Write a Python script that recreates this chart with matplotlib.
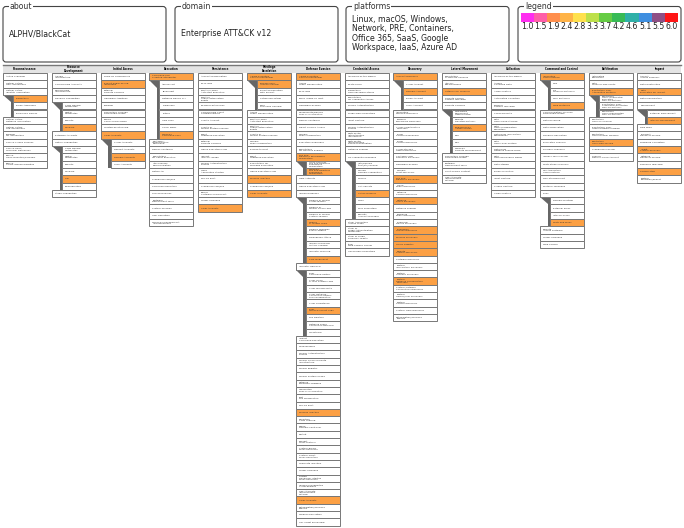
#!/usr/bin/env python3

import textwrap
import matplotlib
matplotlib.use("Agg")
import matplotlib.pyplot as plt
from matplotlib.patches import FancyBboxPatch, Polygon, Rectangle

# "- " means sub-technique, " *" means the technique is scored
reconnaissance = ["Active Scanning", "Gather Victim Host Information", "Gather Victim Identity Information",
    "- Credentials *", "- Email Addresses", "- Employee Names", "Gather Victim Network Information",
    "Gather Victim Org Information", "Phishing for Information", "Search Closed Sources",
    "Search Open Technical Databases", "Search Open Websites/Domains", "Search Victim-Owned Websites"]
resource_dev = ["Acquire Infrastructure", "Compromise Accounts", "Compromise Infrastructure", "Develop Capabilities",
    "- Code Signing Certificates", "- Digital Certificates", "- Exploits", "- Malware *", "Establish Accounts",
    "Obtain Capabilities", "- Code Signing Certificates", "- Digital Certificates", "- Exploits", "- Malware",
    "- Tool *", "- Vulnerabilities", "Stage Capabilities"]
initial_access = ["Drive-by Compromise", "Exploit Public-Facing Application *", "External Remote Services",
    "Hardware Additions", "Phishing", "Replication Through Removable Media", "Supply Chain Compromise",
    "Trusted Relationship", "Valid Accounts *", "- Cloud Accounts", "- Default Accounts", "- Domain Accounts *",
    "- Local Accounts"]
execution = ["Command and Scripting Interpreter *", "- AppleScript", "- JavaScript", "- Network Device CLI",
    "- PowerShell", "- Python", "- Unix Shell", "- Visual Basic", "- Windows Command Shell *",
    "Container Administration Command", "Deploy Container", "Exploitation for Client Execution",
    "Inter-Process Communication", "Native API", "Scheduled Task/Job", "Serverless Execution", "Shared Modules",
    "Software Deployment Tools", "System Services", "User Execution", "Windows Management Instrumentation"]
persistence = ["Account Manipulation", "BITS Jobs", "Boot or Logon Autostart Execution",
    "Boot or Logon Initialization Scripts", "Browser Extensions", "Compromise Client Software Binary",
    "Create Account", "Create or Modify System Process", "Event Triggered Execution", "External Remote Services",
    "Hijack Execution Flow", "Implant Internal Image", "Modify Authentication Process",
    "Office Application Startup", "Pre-OS Boot", "Scheduled Task/Job", "Server Software Component",
    "Traffic Signaling", "Valid Accounts *"]
priv_esc = ["Abuse Elevation Control Mechanism *", "- Bypass User Account Control *",
    "- Elevated Execution with Prompt", "- Setuid and Setgid", "- Sudo and Sudo Caching",
    "Access Token Manipulation", "Boot or Logon Autostart Execution", "Boot or Logon Initialization Scripts",
    "Create or Modify System Process", "Domain Policy Modification", "Escape to Host",
    "Event Triggered Execution", "Exploitation for Privilege Escalation", "Hijack Execution Flow",
    "Process Injection *", "Scheduled Task/Job", "Valid Accounts *"]
defense_evasion = ["Abuse Elevation Control Mechanism *", "Access Token Manipulation", "BITS Jobs",
    "Build Image on Host", "Debugger Evasion", "Deobfuscate/Decode Files or Information", "Deploy Container",
    "Direct Volume Access", "Domain Policy Modification", "Execution Guardrails",
    "Exploitation for Defense Evasion", "File and Directory Permissions Modification *",
    "- Linux and Mac File and Directory Permissions Modification",
    "- Windows File and Directory Permissions Modification *", "Hide Artifacts", "Hijack Execution Flow",
    "Impair Defenses", "- Disable or Modify Cloud Firewall", "- Disable or Modify Cloud Logs",
    "- Disable or Modify System Firewall", "- Disable or Modify Tools *", "- Disable Windows Event Logging",
    "- Downgrade Attack", "- Impair Command History Logging", "- Indicator Blocking", "- Safe Mode Boot *",
    "Indicator Removal", "- Clear Command History", "- Clear Linux or Mac System Logs", "- Clear Mailbox Data",
    "- Clear Network Connection History and Configuration", "- Clear Persistence",
    "- Clear Windows Event Logs *", "- File Deletion", "- Network Share Connection Removal", "- Timestomp",
    "Indirect Command Execution", "Masquerading", "Modify Authentication Process",
    "Modify Cloud Compute Infrastructure", "Modify Registry", "Modify System Image", "Network Boundary Bridging",
    "Obfuscated Files or Information", "Plist File Modification", "Pre-OS Boot", "Process Injection *",
    "Reflective Code Loading", "Rogue Domain Controller", "Rootkit", "Subvert Trust Controls",
    "System Binary Proxy Execution", "System Script Proxy Execution", "Template Injection", "Traffic Signaling",
    "Trusted Developer Utilities Proxy Execution", "Unused/Unsupported Cloud Regions",
    "Use Alternate Authentication Material", "Valid Accounts *", "Virtualization/Sandbox Evasion",
    "Weaken Encryption", "XSL Script Processing"]
credential_access = ["Adversary-in-the-Middle", "Brute Force", "Credentials from Password Stores",
    "Exploitation for Credential Access", "Forced Authentication", "Forge Web Credentials", "Input Capture",
    "Modify Authentication Process", "Multi-Factor Authentication Interception",
    "Multi-Factor Authentication Request Generation", "Network Sniffing", "OS Credential Dumping",
    "- /etc/passwd and /etc/shadow", "- Cached Domain Credentials", "- DCSync", "- LSA Secrets",
    "- LSASS Memory *", "- NTDS", "- Proc Filesystem", "- Security Account Manager",
    "Steal Application Access Token", "Steal or Forge Authentication Certificates",
    "Steal or Forge Kerberos Tickets", "Steal Web Session Cookie", "Unsecured Credentials"]
discovery = ["Account Discovery *", "- Cloud Account", "- Domain Account *", "- Email Account", "- Local Account",
    "Application Window Discovery", "Browser Bookmark Discovery", "Cloud Infrastructure Discovery",
    "Cloud Service Dashboard", "Cloud Service Discovery", "Cloud Storage Object Discovery",
    "Container and Resource Discovery", "Debugger Evasion", "Domain Trust Discovery",
    "File and Directory Discovery *", "Group Policy Discovery", "Network Service Discovery",
    "Network Share Discovery *", "Network Sniffing", "Password Policy Discovery", "Peripheral Device Discovery",
    "Permission Groups Discovery *", "Process Discovery *", "Query Registry *", "Remote System Discovery *",
    "Software Discovery", "System Information Discovery", "System Location Discovery",
    "System Network Configuration Discovery *", "System Network Connections Discovery",
    "System Owner/User Discovery", "System Service Discovery", "System Time Discovery",
    "Virtualization/Sandbox Evasion"]
lateral_movement = ["Exploitation of Remote Services", "Internal Spearphishing", "Lateral Tool Transfer *",
    "Remote Service Session Hijacking", "Remote Services", "- Distributed Component Object Model",
    "- Remote Desktop Protocol", "- SMB/Windows Admin Shares *", "- SSH", "- VNC", "- Windows Remote Management",
    "Replication Through Removable Media", "Software Deployment Tools", "Taint Shared Content",
    "Use Alternate Authentication Material"]
collection = ["Adversary-in-the-Middle", "Archive Collected Data", "Audio Capture", "Automated Collection",
    "Browser Session Hijacking", "Clipboard Data", "Data from Cloud Storage",
    "Data from Configuration Repository", "Data from Information Repositories", "Data from Local System",
    "Data from Network Shared Drive", "Data from Removable Media", "Data Staged", "Email Collection",
    "Input Capture", "Screen Capture", "Video Capture"]
command_control = ["Application Layer Protocol *", "- DNS", "- File Transfer Protocols", "- Mail Protocols",
    "- Web Protocols *", "Communication Through Removable Media", "Data Encoding", "Data Obfuscation",
    "Dynamic Resolution", "Encrypted Channel", "Fallback Channels", "Ingress Tool Transfer",
    "Multi-Stage Channels", "Non-Application Layer Protocol", "Non-Standard Port", "Protocol Tunneling", "Proxy",
    "- Domain Fronting", "- External Proxy", "- Internal Proxy", "- Multi-hop Proxy *",
    "Remote Access Software", "Traffic Signaling", "Web Service"]
exfiltration = ["Automated Exfiltration", "Data Transfer Size Limits", "Exfiltration Over Alternative Protocol *",
    "- Exfiltration Over Asymmetric Encrypted Non-C2 Protocol",
    "- Exfiltration Over Symmetric Encrypted Non-C2 Protocol",
    "- Exfiltration Over Unencrypted Non-C2 Protocol", "Exfiltration Over C2 Channel",
    "Exfiltration Over Other Network Medium", "Exfiltration Over Physical Medium",
    "Exfiltration Over Web Service *", "Scheduled Transfer", "Transfer Data to Cloud Account"]
impact = ["Account Access Removal", "Data Destruction", "Data Encrypted for Impact *", "Data Manipulation",
    "Defacement", "- External Defacement", "- Internal Defacement *", "Disk Wipe", "Endpoint Denial of Service",
    "Firmware Corruption", "Inhibit System Recovery *", "Network Denial of Service", "Resource Hijacking",
    "Service Stop *", "System Shutdown/Reboot"]

tactics = ["Reconnaissance", "Resource\nDevelopment", "Initial Access", "Execution", "Persistence",
    "Privilege\nEscalation", "Defense Evasion", "Credential Access", "Discovery", "Lateral Movement",
    "Collection", "Command and Control", "Exfiltration", "Impact"]
columns = [reconnaissance, resource_dev, initial_access, execution, persistence, priv_esc, defense_evasion,
    credential_access, discovery, lateral_movement, collection, command_control, exfiltration, impact]

box_titles = ["about", "domain", "platforms", "legend"]
about_text = "ALPHV/BlackCat"
domain_text = "Enterprise ATT&CK v12"
platforms_text = "Linux, macOS, Windows,\nNetwork, PRE, Containers,\nOffice 365, SaaS, Google\nWorkspace, IaaS, Azure AD"
legend_labels = ["1.0", "1.5", "1.9", "2.4", "2.8", "3.3", "3.7", "4.2", "4.6", "5.1", "5.5", "6.0"]
legend_colors = ["#ff2ef0", "#ff5fa8", "#ff8f4d", "#ffb347", "#ffe14d", "#bde04a", "#66cc44", "#38bb55",
    "#2fb0a8", "#3f8fe0", "#8f4f85", "#ff1515"]

HIGHLIGHT = "#fca044"
EDGE = "#777777"
BAR = "#666666"
ROW_H = 7.3
COL_W = 44
COL_PITCH = 48.8
TOP = 73


def wrap_label(name, width):
    # fill lines from the end, the navigator leaves the short line on top
    words = name.split()[::-1]
    lines = []
    cur = ""
    for w in words:
        if cur and len(cur) + 1 + len(w) > width:
            lines.append(cur)
            cur = w
        else:
            cur = (w + " " + cur).strip()
    lines.append(cur)
    return "\n".join(lines[::-1])


fig = plt.figure(figsize=(6.84, 5.28), dpi=100)
ax = fig.add_axes([0, 0, 1, 1])
ax.set_xlim(0, 684)
ax.set_ylim(528, 0)
ax.axis("off")

# top boxes
for title, x0, x1 in zip(box_titles, [3, 175, 346, 518], [166, 338, 509, 681]):
    ax.add_patch(FancyBboxPatch((x0 + 3, 9.5), x1 - x0 - 6, 49.5, boxstyle="round,pad=3",
        fc="white", ec="#444444", lw=0.8))
    ax.text(x0 + 7, 6.2, title, fontsize=5.6, va="center", ha="left", color="#333333",
        bbox=dict(fc="white", ec="none", pad=0.6))
ax.text(9, 34, about_text, fontsize=5.6, va="center", color="#222222")
ax.text(181, 34, domain_text, fontsize=5.6, va="center", color="#222222")
ax.text(352, 33.5, platforms_text, fontsize=5.6, va="center", color="#222222", linespacing=1.07)

leg_w = (677.7 - 521) / len(legend_colors)
for i, (c, lab) in enumerate(zip(legend_colors, legend_labels)):
    ax.add_patch(Rectangle((521 + i * leg_w, 12.7), leg_w, 9.3, fc=c, ec="none"))
    ax.text(521 + (i + 0.5) * leg_w, 26.7, lab, fontsize=5.6, ha="center", va="center", color="#222222")

# header band
ax.add_patch(Rectangle((3, 65), 678, 8, fc="#e4e4e4", ec="none"))
ax.plot([3, 681], [65.3, 65.3], color="#777777", lw=1)

for c, (tactic, rows) in enumerate(zip(tactics, columns)):
    x0 = 3 + c * COL_PITCH
    ax.text(x0 + COL_W / 2, 69.2, tactic, fontsize=1.9, fontweight="bold", ha="center", va="center",
        linespacing=1.0)
    i = 0
    while i < len(rows):
        name = rows[i]
        is_sub = name.startswith("- ")
        scored = name.endswith(" *")
        label = name.removeprefix("- ").removesuffix(" *")
        y = TOP + i * ROW_H
        left = x0 + 10 if is_sub else x0
        ax.add_patch(Rectangle((left, y), COL_W - (left - x0), ROW_H, fc=HIGHLIGHT if scored else "white",
            ec=EDGE, lw=0.7, zorder=2))
        ax.text(left + 3, y + ROW_H / 2, wrap_label(label, 19 if is_sub else 21), fontsize=1.7, va="center",
            ha="left", linespacing=1.15, color="#333333", zorder=3)
        # parent with open sub-techniques gets the grey notch and bar
        if not is_sub and i + 1 < len(rows) and rows[i + 1].startswith("- "):
            n = 0
            while i + 1 + n < len(rows) and rows[i + 1 + n].startswith("- "):
                n += 1
            bot = y + ROW_H
            ax.add_patch(Polygon([(x0, bot), (x0 + 10, bot), (x0 + 10, bot + n * ROW_H), (x0 + 7.7, bot + n * ROW_H),
                (x0 + 7.7, bot + ROW_H)], closed=True, fc=BAR, ec="none", zorder=1))
        i += 1

fig.savefig("out.png", dpi=100)
plt.close(fig)
